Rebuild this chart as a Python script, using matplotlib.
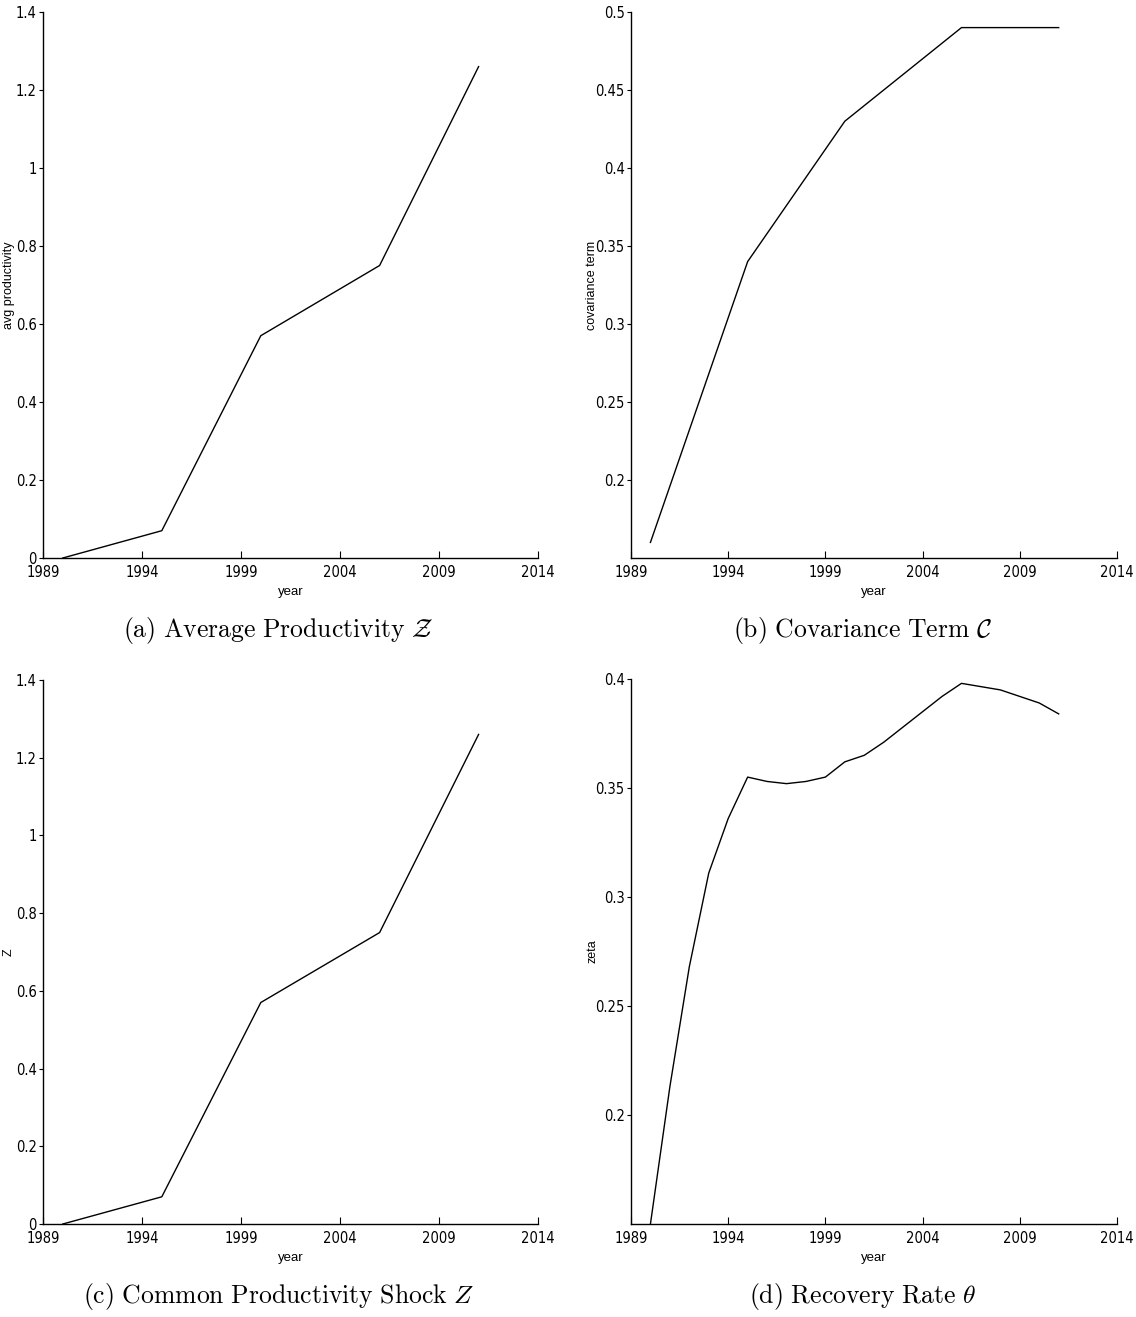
import matplotlib.pyplot as plt

plt.rcParams['mathtext.fontset'] = 'cm'
plt.rcParams['font.family'] = ['DejaVu Sans']
plt.rcParams['font.stretch'] = 'condensed'

# five-year series
years_5 = [1990, 1995, 2000, 2006, 2011]
avg_prod = [0.0, 0.07, 0.57, 0.75, 1.26]
cov_term = [0.16, 0.34, 0.43, 0.49, 0.49]
common_shock = [0.0, 0.07, 0.57, 0.75, 1.26]

# annual series
years_1 = list(range(1990, 2012))
zeta = [0.15, 0.213, 0.268, 0.311, 0.336, 0.355, 0.353, 0.352, 0.353, 0.355,
        0.362, 0.365, 0.371, 0.378, 0.385, 0.392, 0.398, 0.3965, 0.395, 0.392,
        0.389, 0.384]

xticks = [1989, 1994, 1999, 2004, 2009, 2014]

panels = [
    (years_5, avg_prod, 'avg productivity', (0, 1.4), [0, 0.2, 0.4, 0.6, 0.8, 1, 1.2, 1.4],
     ['0', '0.2', '0.4', '0.6', '0.8', '1', '1.2', '1.4'],
     r'$\mathrm{(a)\ Average\ Productivity}\ \mathcal{Z}$'),
    (years_5, cov_term, 'covariance term', (0.15, 0.5), [0.2, 0.25, 0.3, 0.35, 0.4, 0.45, 0.5],
     ['0.2', '0.25', '0.3', '0.35', '0.4', '0.45', '0.5'],
     r'$\mathrm{(b)\ Covariance\ Term}\ \mathcal{C}$'),
    (years_5, common_shock, 'Z', (0, 1.4), [0, 0.2, 0.4, 0.6, 0.8, 1, 1.2, 1.4],
     ['0', '0.2', '0.4', '0.6', '0.8', '1', '1.2', '1.4'],
     r'$\mathrm{(c)\ Common\ Productivity\ Shock}\ Z$'),
    (years_1, zeta, 'zeta', (0.15, 0.4), [0.2, 0.25, 0.3, 0.35, 0.4],
     ['0.2', '0.25', '0.3', '0.35', '0.4'],
     r'$\mathrm{(d)\ Recovery\ Rate}\ \theta$'),
]

W, H = 1136, 1317
fig = plt.figure(figsize=(W / 100, H / 100), dpi=100)

# axes boxes in pixels: left, top, right, bottom
boxes = [(43, 12, 538, 558), (631, 12, 1117, 558),
         (43, 680, 538, 1224), (631, 679, 1117, 1224)]
ylabel_x = [15, 598, 15, 598]
caption_y = [630, 1296]

for i, (x, y, ylab, ylim, yt, ytl, cap) in enumerate(panels):
    l, t, r, b = boxes[i]
    ax = fig.add_axes([l / W, 1 - b / H, (r - l) / W, (b - t) / H])
    ax.plot(x, y, color='black', lw=1.0)
    ax.set_xlim(1989, 2014)
    ax.set_ylim(*ylim)
    ax.set_xticks(xticks)
    ax.set_yticks(yt)
    ax.set_yticklabels(ytl)
    ax.spines['top'].set_visible(False)
    ax.spines['right'].set_visible(False)
    for s in ('left', 'bottom'):
        ax.spines[s].set_linewidth(1.0)
    ax.tick_params(axis='x', direction='in', length=5, labelsize=10.5, pad=5)
    ax.tick_params(axis='y', direction='out', length=3, labelsize=10.5, pad=1.5)
    ax.set_xlabel('year', fontsize=9.5, family=['Liberation Sans', 'DejaVu Sans'],
                  stretch='normal', labelpad=4)
    ax.set_ylabel(ylab, fontsize=9, family=['Liberation Sans', 'DejaVu Sans'],
                  stretch='normal')
    ax.yaxis.set_label_coords((ylabel_x[i] - l) / (r - l), 0.5)
    # subfigure caption, centred a little left of the axes centre
    cx = ((l + r) / 2 - 12) / W
    fig.text(cx, 1 - caption_y[i // 2] / H, cap, ha='center', va='center', fontsize=18.5)

fig.savefig('out.png', dpi=100)
